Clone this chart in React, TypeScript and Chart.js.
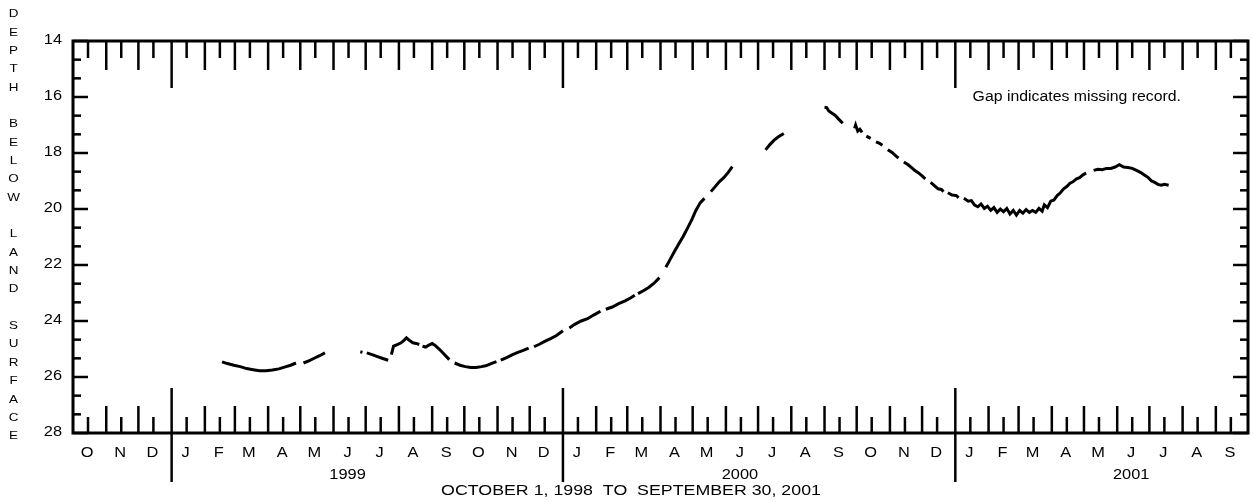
import React, { useEffect, useRef } from "react";
import { Chart, registerables } from "chart.js";

Chart.register(...registerables);

// ---- data (days since Oct 1, 1998 ; depth below land surface in feet) ----
const dayOffsets: number[] = [
  139, 144, 150, 156, 162, 168, 174, 180, 186, 192, 198, 203, 208, 209,
  215, 220, 225, 230, 235, 236,
  268, 270, 271, 274, 279, 284, 289, 294, 295, 297, 299, 302, 306, 309, 311, 314, 317, 320, 323, 324,
  326, 329, 332, 335, 338, 342, 346, 349, 351, 352,
  356, 361, 366, 371, 376, 381, 385, 390, 395, 396,
  399, 405, 410, 415, 420, 425, 426,
  430, 435, 440, 446, 451, 457, 458,
  463, 468, 474, 480, 486, 492, 493,
  497, 503, 509, 515, 520, 524, 525,
  527, 532, 537, 542, 547, 548,
  553, 557, 561, 565, 569, 573, 577, 581, 585, 589, 590,
  595, 599, 603, 607, 611, 615, 616,
  646, 650, 654, 658, 663, 664,
  701, 703, 705, 708, 711, 714, 718, 719,
  729, 730, 732, 734, 736, 737,
  740, 744, 745,
  749, 752, 755, 756,
  760, 764, 768, 770, 771,
  775, 779, 783, 785, 789, 792, 795, 796,
  800, 804, 807, 810, 812, 813,
  816, 820, 824, 826, 827,
  831, 835, 838, 841, 844, 847, 850, 853, 856, 859, 862, 865, 868, 871, 874, 877, 880, 883, 886, 889,
  892, 895, 898, 901, 904, 906, 909, 912, 915, 918, 921, 924, 927, 930, 933, 936, 939, 942, 945, 946,
  952, 956, 960, 964, 968, 972, 976, 980, 984, 988, 992, 996, 1000, 1003, 1006, 1009, 1012, 1015, 1018, 1022,
];

const depthFeet: (number | null)[] = [
  25.46, 25.52, 25.58, 25.63, 25.7, 25.74, 25.78, 25.78, 25.75, 25.71, 25.64, 25.58, 25.5, null,
  25.5, 25.42, 25.33, 25.24, 25.14, null,
  25.1, 25.12, null, 25.14, 25.2, 25.27, 25.34, 25.4, null, 25.2, 24.9, 24.85, 24.78, 24.68, 24.6, 24.7, 24.78, 24.8, 24.84, null,
  24.9, 24.93, 24.86, 24.8, 24.88, 25.02, 25.18, 25.3, 25.38, null,
  25.5, 25.58, 25.63, 25.66, 25.66, 25.63, 25.6, 25.52, 25.45, null,
  25.4, 25.3, 25.2, 25.12, 25.05, 24.97, null,
  24.92, 24.83, 24.73, 24.62, 24.52, 24.35, null,
  24.25, 24.12, 24.0, 23.92, 23.78, 23.65, null,
  23.58, 23.5, 23.38, 23.28, 23.18, 23.08, null,
  23.02, 22.92, 22.8, 22.65, 22.45, null,
  22.08, 21.8, 21.52, 21.25, 20.99, 20.7, 20.4, 20.05, 19.78, 19.62, null,
  19.38, 19.2, 19.02, 18.88, 18.7, 18.49, null,
  17.89, 17.7, 17.54, 17.42, 17.3, null,
  16.37, 16.38, 16.5, 16.58, 16.66, 16.78, 16.94, null,
  17.12, 17.0, 17.22, 17.15, 17.26, null,
  17.4, 17.48, null,
  17.6, 17.65, 17.72, null,
  17.88, 17.98, 18.12, 18.18, null,
  18.32, 18.42, 18.55, 18.62, 18.72, 18.82, 18.92, null,
  19.05, 19.18, 19.28, 19.3, 19.38, null,
  19.42, 19.5, 19.52, 19.6, null,
  19.62, 19.72, 19.7, 19.86, 19.92, 19.82, 19.98, 19.9, 20.05, 19.95, 20.12, 20.0, 20.1, 19.98, 20.18, 20.05, 20.22, 20.05, 20.15, 20.02,
  20.12, 20.05, 20.12, 19.98, 20.08, 19.85, 19.95, 19.72, 19.68, 19.52, 19.42, 19.28, 19.2, 19.08, 19.02, 18.92, 18.88, 18.78, 18.72, null,
  18.62, 18.58, 18.6, 18.55, 18.55, 18.5, 18.42, 18.5, 18.52, 18.55, 18.62, 18.7, 18.8, 18.88, 19.0, 19.05, 19.12, 19.15, 19.12, 19.15,
];

const monthLetters: string[] = ["O", "N", "D", "J", "F", "M", "A", "M", "J", "J", "A", "S"];
const yearLabels: string[] = ["1999", "2000", "2001"];
const yTickLabels: number[] = [14, 16, 18, 20, 22, 24, 26, 28];
const axisTitle = "DEPTH BELOW LAND SURFACE";
const periodTitle = "OCTOBER 1, 1998  TO  SEPTEMBER 30, 2001";
const noteText = "Gap indicates missing record.";

const DAY_MS = 86400000;
const START = Date.UTC(1998, 9, 1);
const monthStarts: number[] = [];
for (let i = 0; i <= 36; i++) {
  monthStarts.push(Math.round((Date.UTC(1998, 9 + i, 1) - START) / DAY_MS));
}
const TOTAL_DAYS = monthStarts[36];

const FONT = '"Liberation Sans", Arial, Helvetica, sans-serif';

function drawText(ctx: CanvasRenderingContext2D, text: string, x: number, y: number, align: CanvasTextAlign, size: number, sx = 1.17) {
  ctx.save();
  ctx.translate(x, y);
  ctx.scale(sx, 1);
  ctx.font = `${size}px ${FONT}`;
  ctx.textAlign = align;
  ctx.textBaseline = "middle";
  ctx.fillStyle = "#000";
  ctx.fillText(text, 0, 0);
  ctx.restore();
}

const framePlugin = {
  id: "hydroFrame",
  beforeDraw(chart: any) {
    const ctx = chart.ctx as CanvasRenderingContext2D;
    ctx.save();
    ctx.fillStyle = "#fff";
    ctx.fillRect(0, 0, chart.width, chart.height);
    ctx.restore();
  },
  afterDraw(chart: any) {
    const ctx = chart.ctx as CanvasRenderingContext2D;
    const { left, right, top, bottom } = chart.chartArea;
    const xs = chart.scales.x;
    const ys = chart.scales.y;
    ctx.save();
    ctx.strokeStyle = "#000";
    ctx.lineCap = "butt";

    const line = (x1: number, y1: number, x2: number, y2: number, w: number) => {
      ctx.lineWidth = w;
      ctx.beginPath();
      ctx.moveTo(x1, y1);
      ctx.lineTo(x2, y2);
      ctx.stroke();
    };

    // y ticks (left and right)
    for (let k = 0; k <= 21; k++) {
      const v = 14 + (k * 2) / 3;
      const py = ys.getPixelForValue(v);
      const major = k % 3 === 0;
      const len = major ? 15 : 8;
      line(left, py, left + len, py, 2.5);
      line(right, py, right - len, py, 2.5);
    }

    // x ticks: month boundaries and mid-month
    for (let i = 0; i < 36; i++) {
      const s = monthStarts[i];
      const mid = s + 14;
      const pm = xs.getPixelForValue(mid);
      line(pm, top, pm, top + 17, 2.5);
      line(pm, bottom, pm, bottom - 16, 2.5);
      if (i > 0) {
        const p = xs.getPixelForValue(s);
        const isYear = (i - 3) % 12 === 0;
        if (isYear) {
          line(p, top, p, top + 47, 2.5);
          line(p, bottom - 45, p, 482, 2.5);
        } else {
          line(p, top, p, top + 29, 2.5);
          line(p, bottom, p, bottom - 27, 2.5);
        }
      }
      drawText(ctx, monthLetters[i % 12], pm - 1, 453.5, "center", 14);
    }

    // year labels centred under June
    yearLabels.forEach((lab, j) => {
      const idx = 3 + j * 12 + 5;
      const px = xs.getPixelForValue(monthStarts[idx] + 14) - 1;
      drawText(ctx, lab, px, 475, "center", 14);
    });

    // frame
    ctx.lineWidth = 3;
    ctx.strokeRect(left, top, right - left, bottom - top);

    // y tick labels
    yTickLabels.forEach((v) => {
      drawText(ctx, String(v), 62, ys.getPixelForValue(v) - 1, "right", 14);
    });

    // vertical axis title
    const chars = axisTitle.split("");
    chars.forEach((c, i) => {
      if (c !== " ") drawText(ctx, c, 13.5, 14 + i * 18.35, "center", 11.5);
    });

    // period title
    drawText(ctx, periodTitle, 631, 491, "center", 14, 1.27);

    // note
    drawText(ctx, noteText, 1181, 97, "right", 14, 1.13);

    ctx.restore();
  },
};

export default function App() {
  const ref = useRef<HTMLCanvasElement>(null);
  useEffect(() => {
    if (!ref.current) return;
    const points = dayOffsets.map((d, i) => ({ x: d, y: depthFeet[i] }));
    const chart = new Chart(ref.current, {
      type: "line",
      data: {
        datasets: [
          {
            data: points as any,
            borderColor: "#000",
            borderWidth: 3,
            pointRadius: 0,
            tension: 0,
            spanGaps: false,
            fill: false,
          },
        ],
      },
      options: {
        responsive: false,
        animation: false,
        devicePixelRatio: 1,
        layout: { padding: { left: 73, top: 41, right: 6, bottom: 69 } },
        plugins: { legend: { display: false }, tooltip: { enabled: false } },
        scales: {
          x: { type: "linear", min: 0, max: TOTAL_DAYS, display: false },
          y: { type: "linear", min: 14, max: 28, reverse: true, display: false },
        },
      },
      plugins: [framePlugin],
    });
    return () => chart.destroy();
  }, []);
  return (
    <div style={{ position: "absolute", left: 0, top: 0, width: 1254, height: 502, background: "#fff" }}>
      <canvas ref={ref} width={1254} height={502} style={{ display: "block", width: 1254, height: 502 }} />
    </div>
  );
}
